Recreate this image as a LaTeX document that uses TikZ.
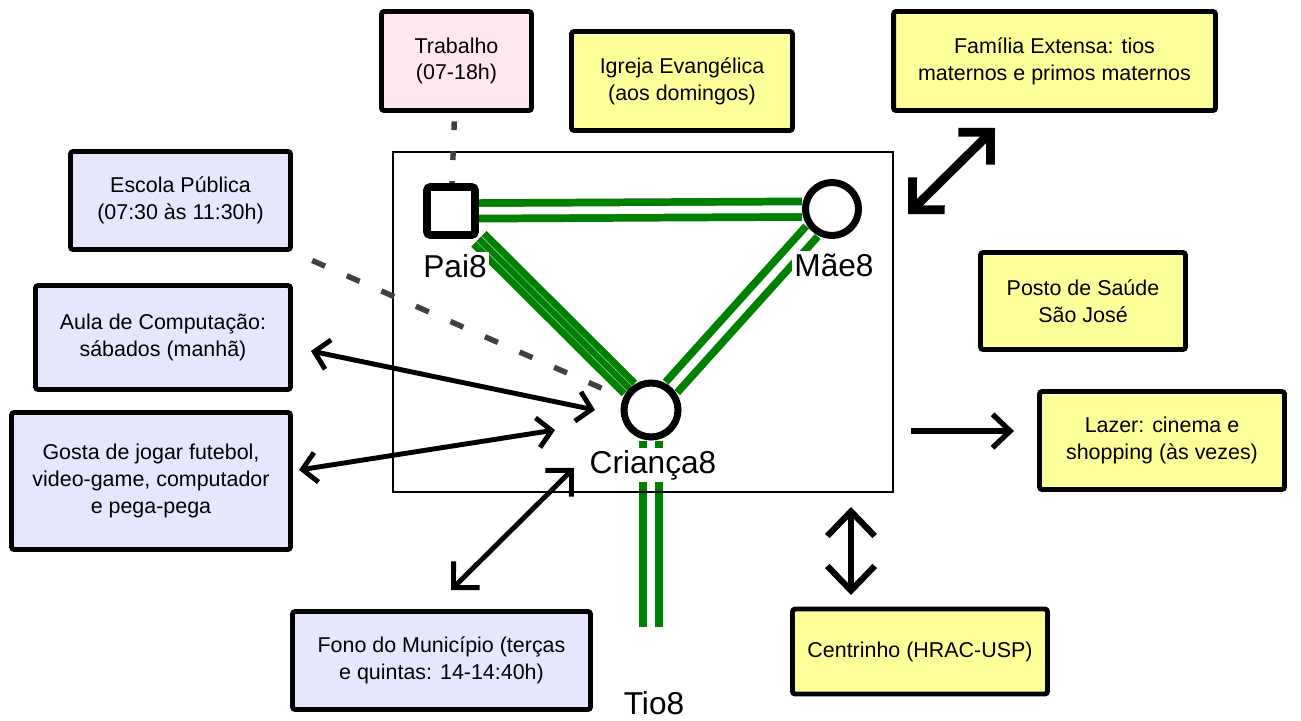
\documentclass[tikz,border=0pt]{standalone}
\usepackage{fontspec}
\setmainfont{Liberation Sans}
\usetikzlibrary{arrows.meta}
\definecolor{tiegreen}{RGB}{0,128,0}
\definecolor{boxyellow}{RGB}{255,255,153}
\definecolor{boxlav}{RGB}{230,230,255}
\definecolor{boxpink}{RGB}{255,230,240}
\definecolor{dashgray}{RGB}{64,64,64}
\pgfdeclarelayer{bg}
\pgfsetlayers{bg,main}
\begin{document}
\begin{tikzpicture}[x=0.02cm,y=-0.02cm,
  box/.style={draw=black, line width=2.8pt, rounded corners=1.5pt, inner sep=0pt,
    align=center, font=\fontsize{12.2}{15.3}\selectfont},
  ybox/.style={box, fill=boxyellow},
  lbox/.style={box, fill=boxlav},
  pbox/.style={box, fill=boxpink},
  malebox/.style={draw, line width=4.5pt, fill=white, rounded corners=2pt, inner sep=0pt, minimum size=0.96cm},
  femalebox/.style={draw, circle, line width=4pt, fill=white, inner sep=0pt, minimum size=1.06cm},
  plabel/.style={fill=white, inner sep=1.5pt, font=\fontsize{18}{20}\selectfont},
  dbltie/.style={draw=tiegreen, line width=4.4pt, double=white, double distance=4.4pt},
  weak/.style={draw=dashgray, line width=3.1pt},
  link/.style={line width=2.8pt, {Straight Barb[length=8pt,width=17pt]}-{Straight Barb[length=8pt,width=17pt]}},
]
\useasboundingbox (0,0) rectangle (1301,720);

% household frame
\draw[line width=0.8pt] (393,152) rectangle (893,492);

% people
\node[malebox] (pai) at (451,211) {};
\node[femalebox] (mae) at (832,209) {};
\node[femalebox, minimum size=1.08cm] (cr) at (651,410) {};
\coordinate (tioend) at (651,627);

\node[plabel] (paiL) at (455,266) {Pai8};
\node[plabel] (maeL) at (834,265) {Mãe8};
\node[plabel] (crL) at (653,465) {Criança8};
\node[font=\fontsize{18}{20}\selectfont] (tio) at (654,703) {Tio8};

% surrounding systems
\node[pbox, minimum width=3.00cm, minimum height=1.98cm] (trab) at (456.5,61) {Trabalho\\(07-18h)};
\node[ybox, minimum width=4.42cm, minimum height=1.98cm] (igreja) at (682,81) {Igreja Evangélica\\(aos domingos)};
\node[ybox, minimum width=6.44cm, minimum height=1.98cm] (familia) at (1054.5,61) {Família Extensa: tios\\maternos e primos maternos};
\node[lbox, minimum width=4.40cm, minimum height=1.96cm] (escola) at (180.5,200.5) {Escola Pública\\(07:30 às 11:30h)};
\node[lbox, minimum width=5.10cm, minimum height=2.08cm] (aula) at (163,337.5) {Aula de Computação:\\sábados (manhã)};
\node[lbox, minimum width=5.58cm, minimum height=2.74cm] (gosta) at (151,481) {Gosta de jogar futebol,\\video-game, computador\\e pega-pega};
\node[ybox, minimum width=4.10cm, minimum height=1.94cm] (posto) at (1083,301) {Posto de Saúde\\São José};
\node[ybox, minimum width=4.90cm, minimum height=1.96cm] (lazer) at (1162,440.5) {Lazer: cinema e\\shopping (às vezes)};
\node[ybox, minimum width=5.10cm, minimum height=1.70cm] (centro) at (920,651.5) {Centrinho (HRAC-USP)};
\node[lbox, minimum width=5.96cm, minimum height=1.96cm] (fono) at (441.5,660.5) {Fono do Município (terças\\e quintas: 14-14:40h)};

% family ties
\begin{pgfonlayer}{bg}
  \draw[dbltie] (pai) -- (mae);
  \draw[dbltie] (mae) -- (cr);
  \draw[dbltie] (cr) -- (tioend);
  \draw[draw=tiegreen, line width=12.5pt] (pai) -- (cr);
  \draw[draw=white!70!tiegreen, line width=0.35pt, double=tiegreen, double distance=3.6pt] (pai) -- (cr);
\end{pgfonlayer}

% weak links
\draw[weak, dash pattern=on 5pt off 12pt, dash phase=12.2pt] (trab) -- (pai);
\draw[weak, dash pattern=on 8pt off 13.5pt, dash phase=9.5pt] (escola.south east) -- (cr);

% exchanges
\coordinate (aulaA) at (311,351);
\coordinate (aulaB) at (595,410);
\coordinate (gostaA) at (299,470);
\coordinate (gostaB) at (555,430);
\coordinate (fonoA) at (451,590);
\coordinate (fonoB) at (574,468);
\coordinate (famA) at (908,214);
\coordinate (famB) at (995,128);
\coordinate (centA) at (851,507);
\coordinate (centB) at (851,595);
\coordinate (lazA) at (911,431);
\coordinate (lazB) at (1014,431);

\draw[link] (aulaA) -- (aulaB);
\draw[link] (gostaA) -- (gostaB);
\draw[line width=2.8pt, {Straight Barb[length=10.5pt,width=21pt]}-{Straight Barb[length=10.5pt,width=21pt]}] (fonoA) -- (fonoB);
\draw[line width=5pt, {Straight Barb[length=13pt,width=26pt]}-{Straight Barb[length=13pt,width=26pt]}] (famA) -- (famB);
\draw[line width=3.5pt, {Straight Barb[length=14pt,width=27pt]}-{Straight Barb[length=14pt,width=27pt]}] (centA) -- (centB);
\draw[line width=3pt, -{Straight Barb[length=10pt,width=19pt]}] (lazA) -- (lazB);
\end{tikzpicture}
\end{document}
